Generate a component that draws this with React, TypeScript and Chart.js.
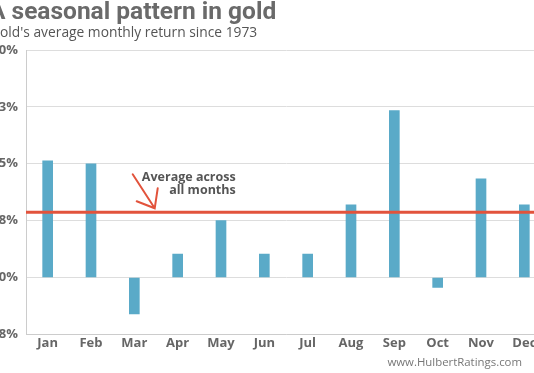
import { useEffect, useRef } from 'react';
import { Chart, registerables } from 'chart.js';

Chart.register(...registerables);

const months = ['Jan', 'Feb', 'Mar', 'Apr', 'May', 'Jun', 'Jul', 'Aug', 'Sep', 'Oct', 'Nov', 'Dec'];
const avgMonthlyReturn = [1.54, 1.5, -0.48, 0.31, 0.75, 0.31, 0.31, 0.96, 2.2, -0.13, 1.3, 0.96];
const averageAllMonths = 0.86;
const yTickValues = [-0.75, 0, 0.75, 1.5, 2.25, 3.0];
const titleText = 'A seasonal pattern in gold';
const subtitleText = "Gold's average monthly return since 1973";
const sourceText = 'www.HulbertRatings.com';
const noteLines = ['Average across', 'all months'];

const BAR_COLOR = '#5aaac8';
const RED = '#e2533c';
const GREY_TEXT = '#666666';

const decorPlugin = {
  id: 'decor',
  afterDatasetsDraw(chart: any) {
    const { ctx, chartArea, scales } = chart;
    const y = scales.y.getPixelForValue(averageAllMonths);
    ctx.save();
    ctx.strokeStyle = RED;
    ctx.lineWidth = 3;
    ctx.beginPath();
    ctx.moveTo(chartArea.left, y);
    ctx.lineTo(chartArea.right, y);
    ctx.stroke();

    const tipX = scales.x.getPixelForValue(2.47);
    const tipY = y - 4;
    ctx.lineWidth = 2;
    ctx.lineCap = 'round';
    ctx.beginPath();
    ctx.moveTo(tipX - 22, tipY - 34);
    ctx.lineTo(tipX, tipY);
    ctx.moveTo(tipX + 3, tipY - 20);
    ctx.lineTo(tipX, tipY);
    ctx.lineTo(tipX - 18, tipY - 7);
    ctx.stroke();

    ctx.fillStyle = '#555555';
    ctx.font = 'bold 12.5px "Open Sans"';
    ctx.textAlign = 'right';
    ctx.textBaseline = 'middle';
    const textRight = tipX + 81;
    ctx.fillText(noteLines[0], textRight, tipY - 31);
    ctx.fillText(noteLines[1], textRight, tipY - 18);
    ctx.restore();
  },
  afterDraw(chart: any) {
    const { ctx, width } = chart;
    ctx.save();
    ctx.textBaseline = 'alphabetic';
    ctx.textAlign = 'left';
    ctx.fillStyle = '#6a6a6a';
    ctx.font = 'bold 24.5px Roboto';
    ctx.fillText(titleText, 1, 19);
    ctx.fillStyle = '#555555';
    ctx.font = '13.8px "Open Sans"';
    ctx.fillText(subtitleText, 2, 37);
    ctx.fillStyle = '#777777';
    ctx.font = '11.4px "Open Sans"';
    ctx.textAlign = 'right';
    ctx.fillText(sourceText, width - 26, 366);
    ctx.restore();
  },
};

export default function App() {
  const canvasRef = useRef<HTMLCanvasElement | null>(null);

  useEffect(() => {
    if (!canvasRef.current) return;
    const chart = new Chart(canvasRef.current, {
      type: 'bar',
      data: {
        labels: months,
        datasets: [
          {
            data: avgMonthlyReturn,
            backgroundColor: BAR_COLOR,
            borderWidth: 0,
            barThickness: 10,
          },
        ],
      },
      options: {
        responsive: false,
        animation: false,
        layout: { padding: { top: 50, left: 0, right: 2, bottom: 21 } },
        plugins: {
          legend: { display: false },
          title: { display: false },
          tooltip: { enabled: false },
        },
        scales: {
          x: {
            grid: { display: false, drawTicks: false },
            border: { display: true, color: '#cccccc', width: 1 },
            ticks: {
              padding: 1,
              color: GREY_TEXT,
              font: { family: '"Open Sans"', size: 13, weight: 'bold' },
            },
          },
          y: {
            min: yTickValues[0],
            max: yTickValues[yTickValues.length - 1],
            afterFit(scale: any) {
              scale.width = 38;
            },
            afterBuildTicks(scale: any) {
              scale.ticks = yTickValues.map((v) => ({ value: v }));
            },
            grid: { color: '#dddddd', drawTicks: false },
            border: { display: true, color: '#cccccc', width: 1 },
            ticks: {
              padding: 8,
              color: GREY_TEXT,
              font: { family: '"Open Sans"', size: 13, weight: 'bold' },
              callback: (v: any) => Number(v).toFixed(1) + '%',
            },
          },
        },
      },
      plugins: [decorPlugin],
    });
    return () => chart.destroy();
  }, []);

  return (
    <div
      style={{
        position: 'fixed',
        left: 0,
        top: 0,
        width: 534,
        height: 373,
        overflow: 'hidden',
        background: '#ffffff',
      }}
    >
      <div style={{ position: 'absolute', left: -12, top: 0, width: 560, height: 373 }}>
        <canvas ref={canvasRef} width={560} height={373} style={{ display: 'block' }} />
      </div>
    </div>
  );
}
